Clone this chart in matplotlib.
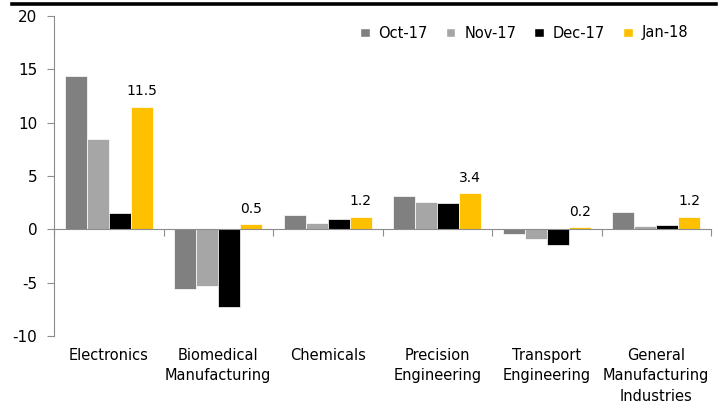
import matplotlib.pyplot as plt
import numpy as np
from matplotlib.lines import Line2D
from matplotlib.patches import Patch

categories = ["Electronics", "Biomedical\nManufacturing", "Chemicals",
              "Precision\nEngineering", "Transport\nEngineering",
              "General\nManufacturing\nIndustries"]
series_names = ["Oct-17", "Nov-17", "Dec-17", "Jan-18"]
oct17 = [14.4, -5.6, 1.3, 3.1, -0.4, 1.6]
nov17 = [8.5, -5.3, 0.6, 2.6, -0.9, 0.3]
dec17 = [1.5, -7.3, 1.0, 2.5, -1.5, 0.4]
jan18 = [11.5, 0.5, 1.2, 3.4, 0.2, 1.2]
colors = ["#808080", "#A6A6A6", "#000000", "#FFC000"]

plt.rcParams['font.family'] = 'DejaVu Sans'
fig = plt.figure(figsize=(7.26, 4.07), dpi=100)
ax = fig.add_axes([54 / 726, 1 - 336 / 407, (711 - 54) / 726, (336 - 16) / 407])

x = np.arange(len(categories))
w = 0.2
for i, (vals, c) in enumerate(zip([oct17, nov17, dec17, jan18], colors)):
    ax.bar(x + (i - 1.5) * w, vals, width=w, color=c, edgecolor='white', linewidth=0.5)

# value labels on latest month
for xi, v in zip(x, jan18):
    ax.annotate(f"{v:.1f}", (xi + 1.5 * w, v), xytext=(0, 6), textcoords='offset points',
                ha='center', va='bottom', fontsize=10)

ax.set_xlim(-0.5, len(categories) - 0.5)
ax.set_ylim(-10, 20)
ax.set_yticks([-10, -5, 0, 5, 10, 15, 20])
ax.set_yticklabels(["-10", "-5", "0", "5", "10", "15", "20"])

for s in ['top', 'right']:
    ax.spines[s].set_visible(False)
ax.spines['left'].set_color('#8c8c8c')
ax.spines['bottom'].set_color('#8c8c8c')
ax.spines['bottom'].set_position(('data', 0))
ax.set_xticks(np.arange(len(categories) + 1) - 0.5)
ax.set_xticklabels([])
ax.tick_params(axis='x', length=5, color='#8c8c8c')
ax.tick_params(axis='y', length=5, color='#8c8c8c', labelsize=11, pad=7)

for xi, name in zip(x, categories):
    ax.text(xi, -11.1, name, ha='center', va='top', fontsize=10.5, linespacing=1.45)

handles = [Patch(facecolor=c, edgecolor='white') for c in colors]
ax.legend(handles, series_names, ncol=4, frameon=False, loc='center right',
          bbox_to_anchor=(688 / 726, 1 - 33 / 407), bbox_transform=fig.transFigure,
          handlelength=0.65, handleheight=0.65, handletextpad=0.6, columnspacing=1.25,
          fontsize=10.5, borderaxespad=0, borderpad=0)

fig.add_artist(Line2D([12 / 726, 716 / 726], [1 - 3.5 / 407, 1 - 3.5 / 407],
                      color='black', linewidth=2.6, transform=fig.transFigure))

fig.savefig("out.png", dpi=100)
